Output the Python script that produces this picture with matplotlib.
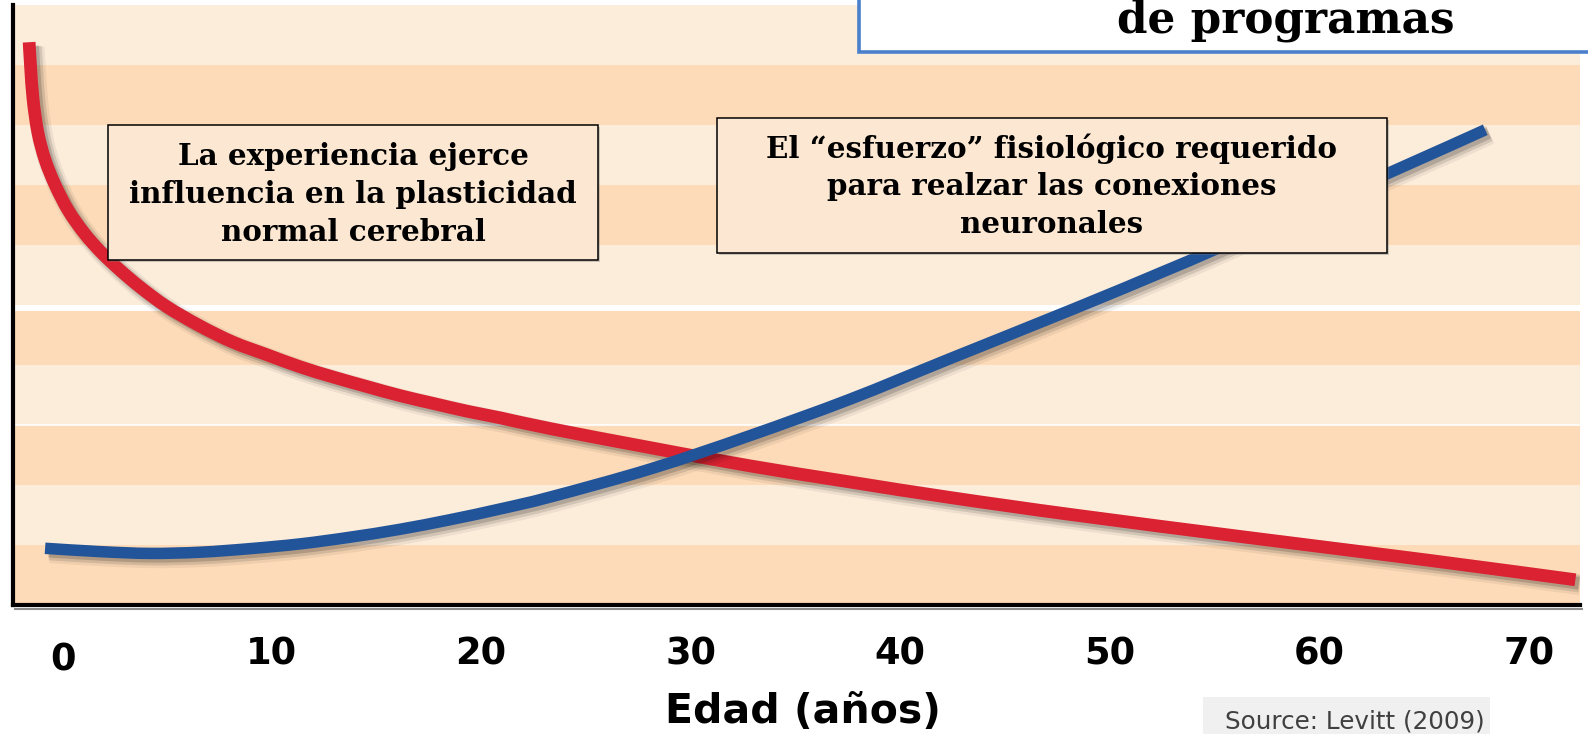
import matplotlib
matplotlib.use('Agg')
import matplotlib.pyplot as plt
from matplotlib.patches import Rectangle, PathPatch
from matplotlib.lines import Line2D
from matplotlib.path import Path
import matplotlib.patheffects as pe
import matplotlib.transforms as mtransforms

# ---------------- data ----------------
tick_years = [0, 10, 20, 30, 40, 50, 60, 70]
tick_labels = ["0", "10", "20", "30", "40", "50", "60", "70"]
x_label = "Edad (años)"

# red curve: plasticity influenced by experience
red_age = [-1.56, -1.49, -1.37, -1.14, -0.80, -0.32, 0.30, 1.06, 1.87, 2.78,
           3.73, 4.97, 6.59, 8.17, 9.79, 11.36, 12.94, 14.56, 16.13, 17.71,
           19.33, 20.9, 23.3, 28.1, 32.8, 37.6, 42.4, 48.3, 56.7, 65.1, 72.2]
red_val = [9.38, 8.97, 8.42, 7.87, 7.42, 7.00, 6.58, 6.20, 5.88, 5.58,
           5.30, 4.98, 4.65, 4.38, 4.17, 3.97, 3.80, 3.64, 3.49, 3.36,
           3.23, 3.12, 2.94, 2.62, 2.32, 2.05, 1.79, 1.50, 1.12, 0.75, 0.42]

# blue curve: physiological effort
blue_age = [-0.8, 1.8, 4.2, 6.6, 9.0, 11.4, 13.75, 16.1, 18.5, 20.9, 23.3,
            28.1, 32.8, 37.6, 42.4, 48.3, 52.5, 55.5, 63.3, 67.9]
blue_val = [0.945, 0.89, 0.86, 0.88, 0.94, 1.02, 1.13, 1.26, 1.42, 1.60, 1.80,
            2.27, 2.82, 3.43, 4.11, 4.94, 5.55, 6.00, 7.20, 7.92]

box1_lines = ["La experiencia ejerce", "influencia en la plasticidad", "normal cerebral"]
box2_lines = ["El \u201cesfuerzo\u201d fisiológico requerido", "para realzar las conexiones", "neuronales"]
title_text = "de programas"
source_text = "Source: Levitt (2009)"

# ---------------- styling ----------------
W, H = 1588, 734
RED = '#DA2232'
BLUE = '#22549A'
LIGHT = '#FCECDA'
DARK = '#FDDBB8'
BOXFC = '#FCE8D2'

fig = plt.figure(figsize=(W / 100, H / 100), dpi=100)
fig.patch.set_facecolor('white')


def fx(x):
    return x / W


def fy(y):
    return 1 - y / H


ax = fig.add_axes([fx(13), fy(605), (1580 - 13) / W, 600 / H])
ax.set_xlim(-2.33, 72.42)
ax.set_ylim(0, 10)

for k in range(10):
    ax.axhspan(k, k + 1, color=DARK if k % 2 == 0 else LIGHT, lw=0, zorder=0)
ax.axhspan(4.9, 5.0, color='white', lw=0, zorder=0.5)
ax.axhline(3.0, color='white', lw=1.2, zorder=0.5)


def shadow(lw):
    return [pe.SimpleLineShadow(offset=(3.5, -3.5), shadow_color='k', alpha=0.06, linewidth=lw + 6),
            pe.SimpleLineShadow(offset=(3, -3), shadow_color='k', alpha=0.11, linewidth=lw + 3),
            pe.SimpleLineShadow(offset=(2.5, -2.5), shadow_color='k', alpha=0.16, linewidth=lw),
            pe.Normal()]


def smooth_path(xs, ys):
    """Cubic Bezier (Catmull-Rom) path through the given points."""
    pts = list(zip(xs, ys))
    n = len(pts)
    verts = [pts[0]]
    codes = [Path.MOVETO]
    for i in range(n - 1):
        p0 = pts[i - 1] if i > 0 else pts[i]
        p1 = pts[i]
        p2 = pts[i + 1]
        p3 = pts[i + 2] if i + 2 < n else pts[i + 1]
        c1 = (p1[0] + (p2[0] - p0[0]) / 6, p1[1] + (p2[1] - p0[1]) / 6)
        c2 = (p2[0] - (p3[0] - p1[0]) / 6, p2[1] - (p3[1] - p1[1]) / 6)
        verts += [c1, c2, p2]
        codes += [Path.CURVE4] * 3
    return Path(verts, codes)


red_patch = PathPatch(smooth_path(red_age, red_val), fill=False, edgecolor=RED,
                      lw=9.2, capstyle='butt', joinstyle='round', zorder=3,
                      path_effects=shadow(9.2))
ax.add_patch(red_patch)
blue_patch = PathPatch(smooth_path(blue_age, blue_val), fill=False, edgecolor=BLUE,
                       lw=8.3, capstyle='butt', joinstyle='round', zorder=4,
                       path_effects=shadow(8.3))
ax.add_patch(blue_patch)

for s in ['top', 'right']:
    ax.spines[s].set_visible(False)
for s in ['left', 'bottom']:
    ax.spines[s].set_linewidth(3)
    ax.spines[s].set_color('black')
    ax.spines[s].set_zorder(6)
ax.set_yticks([])
ax.set_xticks(tick_years)
ax.set_xticklabels(tick_labels, fontsize=26.5, fontweight='bold', family='DejaVu Sans')
ax.tick_params(axis='x', length=0, pad=22)
lab0 = ax.get_xticklabels()[0]
lab0.set_transform(lab0.get_transform() +
                   mtransforms.ScaledTranslation(0.01, -0.06, fig.dpi_scale_trans))

ax.set_xlabel(x_label, fontsize=29.5, fontweight='bold', family='DejaVu Sans',
              verticalalignment='center')
ax.xaxis.set_label_coords((803 - 13) / 1567, (605 - 712) / 600)

# shadow under bottom spine
fig.add_artist(Line2D([fx(15), fx(1582)], [fy(608.5)] * 2, color='#8c8c8c', lw=1.5, zorder=0.9))

renderer = fig.canvas.get_renderer()


def fit(t, width_px):
    bb = t.get_window_extent(renderer)
    t.set_fontsize(t.get_fontsize() * width_px / bb.width)


def rect(x0, y0, x1, y1, fc, ec, lw, z, shadow_px=0):
    if shadow_px:
        fig.add_artist(Rectangle((fx(x0 + shadow_px), fy(y1 + shadow_px)),
                                 fx(x1) - fx(x0), fy(y0) - fy(y1),
                                 transform=fig.transFigure, facecolor='#777777',
                                 edgecolor='none', alpha=0.35, zorder=z - 0.1))
    fig.add_artist(Rectangle((fx(x0), fy(y1)), fx(x1) - fx(x0), fy(y0) - fy(y1),
                             transform=fig.transFigure, facecolor=fc, edgecolor=ec,
                             lw=lw, zorder=z))


serif = ['DejaVu Serif']

# box 1
rect(108, 125, 598, 260, BOXFC, 'black', 1.1, 5, shadow_px=2)
ts = []
for line, base in zip(box1_lines, [165, 203, 241]):
    ts.append(fig.text(fx(353), fy(base), line, ha='center', va='baseline',
                       fontsize=20, fontweight='bold', family=serif, zorder=6))
fit(ts[1], 448)
for t in ts:
    t.set_fontsize(ts[1].get_fontsize())

# box 2
rect(717, 118, 1387, 253, BOXFC, 'black', 1.1, 5, shadow_px=2)
ts2 = []
for line, base in zip(box2_lines, [158, 195, 233]):
    ts2.append(fig.text(fx(1052), fy(base), line, ha='center', va='baseline',
                        fontsize=20, fontweight='bold', family=serif, zorder=6))
fit(ts2[0], 570)
for t in ts2:
    t.set_fontsize(ts2[0].get_fontsize())

# title box (cut at top)
rect(859, -80, 1640, 52, 'white', '#4A7FCC', 2.6, 5)
tt = fig.text(fx(1286), fy(33), title_text, ha='center', va='baseline',
              fontsize=28, fontweight='bold', family=serif, zorder=6)
fit(tt, 338)

# source box
rect(1203, 697, 1490, 760, '#F0F0F0', 'none', 0, 5)
st = fig.text(fx(1225), fy(728), source_text, ha='left', va='baseline',
              fontsize=17, color='#404040', family='DejaVu Sans', zorder=6)
fit(st, 260)

fig.savefig('out.png', dpi=100, facecolor='white')
